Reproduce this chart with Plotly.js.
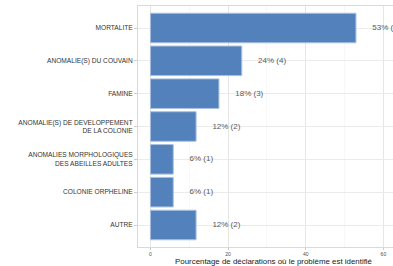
<!DOCTYPE html>
<html><head><meta charset="utf-8">
<script src="https://cdn.plot.ly/plotly-3.0.1.min.js"></script>
<style>html,body{margin:0;padding:0;overflow:hidden;background:#fff;width:393px;height:266px}</style>
</head><body><div id="chart"></div>
<script>
const categories = ["MORTALITE","ANOMALIE(S) DU COUVAIN","FAMINE","ANOMALIE(S) DE DEVELOPPEMENT<br>DE LA COLONIE","ANOMALIES MORPHOLOGIQUES<br>DES ABEILLES ADULTES","COLONIE ORPHELINE","AUTRE"];
const counts = [9,4,3,2,1,1,2];
const percents = [52.94,23.53,17.65,11.76,5.88,5.88,11.76];
const labels = ["53% (9)","24% (4)","18% (3)","12% (2)","6% (1)","6% (1)","12% (2)"];
const xTicks = [0,20,40,60];

const labelOffset = 4.2;
const font = "Liberation Sans, Arial, sans-serif";

const traces = [
  {type:'bar', orientation:'h', x:percents, y:categories, width:0.9,
   marker:{color:'#5381bb', line:{color:'#a9c0df', width:1}}, hoverinfo:'skip'},
  {type:'scatter', mode:'text', x:percents.map(v=>v+labelOffset), y:categories,
   text:labels, textposition:'middle right', cliponaxis:false,
   textfont:{family:font, size:8, color:'#595959'}, hoverinfo:'skip'}
];

const layout = {
  width:409, height:266,
  margin:{l:138, r:0, t:6, b:19},
  showlegend:false, paper_bgcolor:'#fff', plot_bgcolor:'#fff',
  font:{family:font},
  xaxis:{range:[-3.2,66.6], tickvals:xTicks, ticktext:xTicks.map(String),
    tickfont:{size:5, color:'#4d4d4d'}, ticks:'outside', ticklen:2, tickcolor:'#cccccc',
    showgrid:true, gridcolor:'#e6e6e6', gridwidth:1,
    minor:{dtick:10, tick0:0, showgrid:true, gridcolor:'#f2f2f2', gridwidth:0.6},
    zeroline:false, showline:true, mirror:true, linecolor:'#d9d9d9', linewidth:1,
    title:{text:'Pourcentage de déclarations où le problème est identifié', font:{size:7.9, color:'#1a1a1a'}, standoff:0}},
  yaxis:{type:'category', categoryarray:categories, range:[6.67,-0.67],
    tickfont:{size:6.6, color:'#333333'}, ticks:'outside', ticklen:3, tickcolor:'#cccccc',
    showgrid:true, gridcolor:'#ebebeb', gridwidth:1, zeroline:false,
    showline:true, mirror:true, linecolor:'#d9d9d9', linewidth:1},
  bargap:0.1
};
Plotly.newPlot('chart', traces, layout, {displayModeBar:false, staticPlot:true});
</script></body></html>
